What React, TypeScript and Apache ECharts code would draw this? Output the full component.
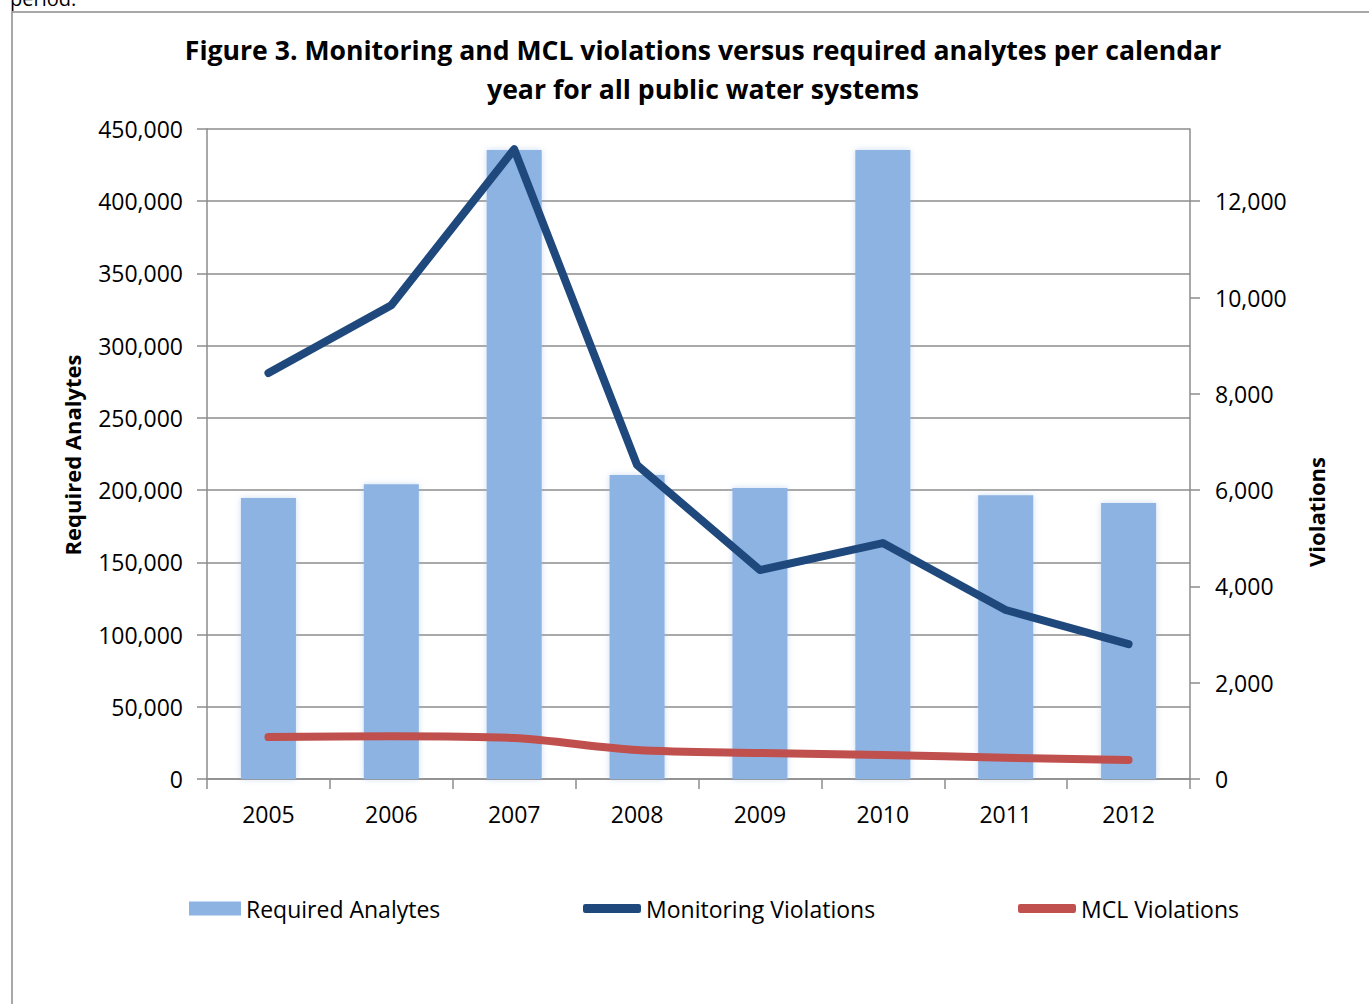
import React, { useEffect, useRef } from "react";
import * as echarts from "echarts";

const years = ["2005", "2006", "2007", "2008", "2009", "2010", "2011", "2012"];
const requiredAnalytes = [194500, 204000, 435500, 210500, 201500, 435500, 196500, 191000];
const monitoringViolations = [8430, 9840, 13080, 6520, 4340, 4900, 3510, 2800];
const mclViolations = [870, 890, 850, 600, 540, 500, 440, 395];

const titleLines = [
  "Figure 3. Monitoring and MCL violations versus required analytes per calendar",
  "year for all public water systems",
];

const FONT = "'Open Sans', sans-serif";
const BAR = "#8DB3E2";
const NAVY = "#1F497D";
const RED = "#C0504D";
const GRAY = "#8C8C8C";

export default function App() {
  const ref = useRef<HTMLDivElement>(null);
  useEffect(() => {
    if (!ref.current) return;
    const chart = echarts.init(ref.current, null, { renderer: "svg" });
    const fmt = (v: number) => v.toLocaleString("en-US");
    const legendText = { fontSize: 23, color: "#000", fontFamily: FONT };
    chart.setOption({
      animation: false,
      backgroundColor: "#ffffff",
      textStyle: { fontFamily: FONT },
      grid: { left: 207, right: 179, top: 129, bottom: 225, containLabel: false },
      graphic: [
        {
          type: "rect",
          shape: { x: 12, y: 12, width: 1380, height: 1010 },
          style: { fill: "none", stroke: GRAY, lineWidth: 1.5 },
          silent: true,
        },
        {
          type: "text",
          x: 10,
          y: 8,
          style: { text: "period.", font: `20px ${FONT}`, fill: "#000", verticalAlign: "bottom" },
        },
        {
          type: "text",
          x: 703,
          y: 50,
          style: {
            text: titleLines[0],
            font: `bold 26.6px ${FONT}`,
            fill: "#000",
            align: "center",
            verticalAlign: "middle",
          },
        },
        {
          type: "text",
          x: 703,
          y: 89,
          style: {
            text: titleLines[1],
            font: `bold 26.6px ${FONT}`,
            fill: "#000",
            align: "center",
            verticalAlign: "middle",
          },
        },
        {
          type: "text",
          x: 72,
          y: 455,
          rotation: Math.PI / 2,
          style: {
            text: "Required Analytes",
            font: `bold 22px ${FONT}`,
            fill: "#000",
            align: "center",
            verticalAlign: "middle",
          },
        },
        {
          type: "text",
          x: 1316,
          y: 512,
          rotation: Math.PI / 2,
          style: {
            text: "Violations",
            font: `bold 22px ${FONT}`,
            fill: "#000",
            align: "center",
            verticalAlign: "middle",
          },
        },
      ],
      legend: [
        {
          left: 189,
          top: 897,
          padding: 0,
          itemWidth: 52,
          itemHeight: 14,
          icon: "rect",
          data: ["Required Analytes"],
          textStyle: legendText,
        },
        {
          left: 583,
          top: 897,
          padding: 0,
          itemWidth: 58,
          itemHeight: 9,
          icon: "roundRect",
          data: ["Monitoring Violations"],
          textStyle: legendText,
        },
        {
          left: 1018,
          top: 897,
          padding: 0,
          itemWidth: 58,
          itemHeight: 9,
          icon: "roundRect",
          data: ["MCL Violations"],
          textStyle: legendText,
        },
      ],
      xAxis: {
        type: "category",
        data: years,
        boundaryGap: true,
        axisLine: { show: true, lineStyle: { color: GRAY, width: 1.5 } },
        axisTick: { show: true, alignWithLabel: false, length: 10, lineStyle: { color: GRAY, width: 1.5 } },
        axisLabel: { fontSize: 23, color: "#000", margin: 23, fontFamily: FONT },
      },
      yAxis: [
        {
          type: "value",
          min: 0,
          max: 450000,
          interval: 50000,
          axisLine: { show: true, lineStyle: { color: GRAY, width: 1.5 } },
          axisTick: { show: true, length: 10, lineStyle: { color: GRAY, width: 1.5 } },
          axisLabel: { fontSize: 23, color: "#000", margin: 24, fontFamily: FONT, formatter: fmt },
          splitLine: { show: true, lineStyle: { color: GRAY, width: 1.5 } },
        },
        {
          type: "value",
          min: 0,
          max: 13500,
          interval: 2000,
          position: "right",
          axisLine: { show: true, lineStyle: { color: GRAY, width: 1.5 } },
          axisTick: { show: true, length: 10, lineStyle: { color: GRAY, width: 1.5 } },
          axisLabel: {
            fontSize: 23,
            color: "#000",
            margin: 25,
            fontFamily: FONT,
            formatter: fmt,
            showMaxLabel: false,
          },
          splitLine: { show: false },
        },
      ],
      series: [
        {
          name: "Required Analytes",
          type: "bar",
          data: requiredAnalytes,
          yAxisIndex: 0,
          barWidth: 55,
          itemStyle: { color: BAR, shadowBlur: 6, shadowColor: "rgba(141,179,226,0.45)" },
        },
        {
          name: "Monitoring Violations",
          type: "line",
          data: monitoringViolations,
          yAxisIndex: 1,
          showSymbol: false,
          symbol: "none",
          lineStyle: { color: NAVY, width: 8, cap: "round", join: "round" },
          itemStyle: { color: NAVY },
        },
        {
          name: "MCL Violations",
          type: "line",
          data: mclViolations,
          yAxisIndex: 1,
          smooth: 0.3,
          showSymbol: false,
          symbol: "none",
          lineStyle: { color: RED, width: 8, cap: "round", join: "round" },
          itemStyle: { color: RED },
        },
      ],
    });
    return () => chart.dispose();
  }, []);
  return (
    <div
      ref={ref}
      style={{ position: "fixed", left: 0, top: 0, width: 1369, height: 1004, background: "#fff" }}
    />
  );
}
